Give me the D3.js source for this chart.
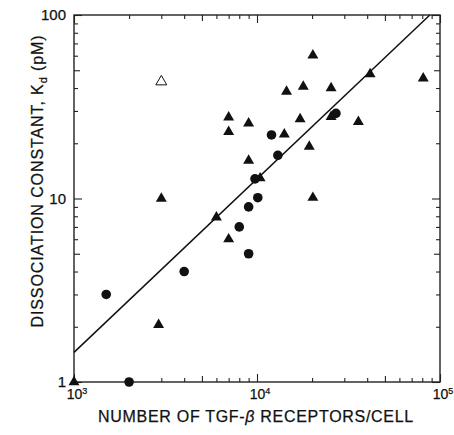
<!DOCTYPE html>
<html>
<head>
<meta charset="utf-8">
<script src="https://cdn.jsdelivr.net/npm/d3@7"></script>
<style>
  body { margin: 0; background: #fff; }
  text { font-family: "Liberation Sans", Arial, sans-serif; fill: #111; stroke: #111; stroke-width: 0.25px; }
</style>
</head>
<body>
<div id="chart"></div>
<script>
// filled triangles
var triX = [1000, 3000, 2900, 6000, 7000, 9000, 7000, 7000, 9000, 10400, 14100, 14500, 17900, 20200, 17200, 19300, 20200, 25400, 25400, 35800, 41500, 81000];
var triY = [1.0, 10.0, 2.05, 7.9, 6.0, 16.1, 27.7, 23.1, 25.7, 12.9, 22.4, 38.2, 40.7, 60.2, 27.1, 19.2, 10.1, 40.0, 27.9, 26.2, 47.7, 45.2];
// filled circles
var dotX = [2000, 1500, 4000, 9000, 8000, 9000, 10100, 9750, 13000, 12000, 27000];
var dotY = [1.0, 3.0, 4.0, 5.0, 7.0, 9.0, 10.1, 12.8, 17.2, 22.2, 29.1];
// open triangle
var openX = [3000];
var openY = [43.3];
// regression line ends
var fitX = [1000, 88000];
var fitY = [1.45, 100];

var xLabels = ["3", "4", "5"];
var yLabels = ["1", "10", "100"];

var W = 454, H = 435;
var margin = {top: 15, right: 14, bottom: 53, left: 74};
var width = W - margin.left - margin.right;
var height = H - margin.top - margin.bottom;

var svg = d3.select("#chart").append("svg")
    .attr("width", W)
    .attr("height", H);

var g = svg.append("g")
    .attr("transform", "translate(" + margin.left + "," + margin.top + ")");

var x = d3.scaleLog().domain([1e3, 1e5]).range([0, width]);
var y = d3.scaleLog().domain([1, 100]).range([height, 0]);

// tick values: every integer multiple inside each decade
function decadeTicks(lo, hi) {
  var t = [];
  for (var d = lo; d < hi; d *= 10) {
    for (var m = 1; m < 10; m++) t.push(d * m);
  }
  t.push(hi);
  return t;
}
var xt = decadeTicks(1e3, 1e5);
var yt = decadeTicks(1, 100);

function tickLen(v) {
  var m = Math.round(v / Math.pow(10, Math.floor(Math.log10(v) + 1e-9)));
  if (m === 1) return 8;
  if (m === 5) return 6;
  return 4;
}

function styleAxis(sel, horiz, sign) {
  sel.select(".domain").remove();
  sel.selectAll(".tick text").remove();
  sel.selectAll(".tick line")
    .attr("stroke", "#222")
    .attr("stroke-width", 1.1)
    .each(function (d) {
      var l = d3.select(this);
      if (horiz) l.attr("y2", sign * tickLen(d));
      else l.attr("x2", sign * tickLen(d));
    });
}

g.append("g").attr("transform", "translate(0," + height + ")")
  .call(d3.axisBottom(x).tickValues(xt))
  .call(styleAxis, true, -1);
g.append("g")
  .call(d3.axisTop(x).tickValues(xt))
  .call(styleAxis, true, 1);
g.append("g")
  .call(d3.axisLeft(y).tickValues(yt))
  .call(styleAxis, false, 1);
g.append("g").attr("transform", "translate(" + width + ",0)")
  .call(d3.axisRight(y).tickValues(yt))
  .call(styleAxis, false, -1);

// frame
g.append("rect")
  .attr("width", width)
  .attr("height", height)
  .attr("fill", "none")
  .attr("stroke", "#222")
  .attr("stroke-width", 1.4);

// y tick labels
g.selectAll(".ylab")
  .data(yLabels)
  .enter().append("text")
  .attr("x", -8)
  .attr("y", function (d) { return y(+d) + 5; })
  .attr("text-anchor", "end")
  .style("font-size", "15px")
  .text(function (d) { return d; });

// x tick labels 10^n
var xl = g.selectAll(".xlab")
  .data(xLabels)
  .enter().append("text")
  .attr("x", function (d) { return x(Math.pow(10, +d)) + 3; })
  .attr("y", height + 17)
  .attr("text-anchor", "middle")
  .style("font-size", "14px");
xl.append("tspan").text("10");
xl.append("tspan")
  .attr("dy", "-5")
  .style("font-size", "9px")
  .text(function (d) { return d; });

// regression line
g.append("line")
  .attr("x1", x(fitX[0])).attr("y1", y(fitY[0]))
  .attr("x2", x(fitX[1])).attr("y2", y(fitY[1]))
  .attr("stroke", "#111")
  .attr("stroke-width", 1.5);

var tri = d3.symbol().type(d3.symbolTriangle).size(52);

g.selectAll(".tri")
  .data(triX)
  .enter().append("path")
  .attr("d", tri)
  .attr("transform", function (d, i) { return "translate(" + x(d) + "," + y(triY[i]) + ")"; })
  .attr("fill", "#111");

g.selectAll(".dot")
  .data(dotX)
  .enter().append("circle")
  .attr("r", 4.8)
  .attr("cx", function (d) { return x(d); })
  .attr("cy", function (d, i) { return y(dotY[i]); })
  .attr("fill", "#111");

g.selectAll(".open")
  .data(openX)
  .enter().append("path")
  .attr("d", tri)
  .attr("transform", function (d, i) { return "translate(" + x(d) + "," + y(openY[i]) + ")"; })
  .attr("fill", "#fff")
  .attr("stroke", "#111")
  .attr("stroke-width", 1);

// axis titles
var xt2 = svg.append("text")
  .attr("x", margin.left + width / 2 - 1)
  .attr("y", H - 13)
  .attr("text-anchor", "middle")
  .style("font-size", "16px")
  .style("letter-spacing", "0.7px");
xt2.append("tspan").text("NUMBER OF TGF-");
xt2.append("tspan").style("font-style", "italic").text("\u03b2");
xt2.append("tspan").text(" RECEPTORS/CELL");

var yt2 = svg.append("text")
  .attr("transform", "translate(43,181) rotate(-90)")
  .attr("text-anchor", "middle")
  .style("font-size", "16px")
  .style("letter-spacing", "0.9px");
yt2.append("tspan").text("DISSOCIATION CONSTANT, K");
yt2.append("tspan").attr("dy", 4).style("font-size", "11px").text("d");
yt2.append("tspan").attr("dy", -4).text("  (pM)");
</script>
</body>
</html>
